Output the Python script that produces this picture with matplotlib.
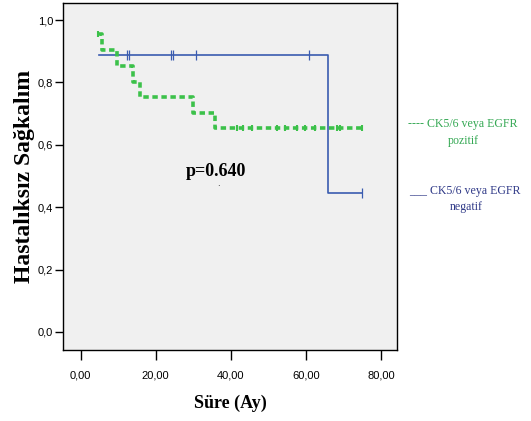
import matplotlib
matplotlib.use("Agg")
import matplotlib.pyplot as plt

# Kaplan-Meier curves (months, survival)
neg_time = [5.0, 65.8, 74.9]
neg_surv = [0.889, 0.444, 0.444]
neg_cens_time = [12.3, 12.9, 24.0, 24.7, 30.7, 60.8, 74.9]
neg_cens_surv = [0.889, 0.889, 0.889, 0.889, 0.889, 0.889, 0.444]

pos_time = [4.5, 5.8, 9.8, 13.9, 15.8, 29.9, 35.8, 74.9]
pos_surv = [0.957, 0.904, 0.853, 0.802, 0.752, 0.703, 0.654, 0.654]
pos_cens_time = [4.7, 41.7, 43.4, 45.6, 52.3, 54.5, 57.6, 59.8, 62.5, 68.3, 69.2, 74.9]
pos_cens_surv = [0.957] + [0.654] * 11

xticks = [0, 20, 40, 60, 80]
yticks = [0.0, 0.2, 0.4, 0.6, 0.8, 1.0]

green = "#3cc14a"
blue = "#3a5cb0"
serif = ["Liberation Serif", "DejaVu Serif"]

fig = plt.figure(figsize=(5.31, 4.21), dpi=100)
ax = fig.add_axes([0.1186, 0.1686, 0.629, 0.8243])
ax.set_facecolor("#f0f0f0")

ax.step(neg_time, neg_surv, where="post", color=blue, lw=1.2)
ax.plot(neg_cens_time, neg_cens_surv, ls="none", marker="|", ms=7, mew=0.9, color=blue)

ax.step(pos_time, pos_surv, where="post", color=green, lw=2.6, ls=(0, (1.5, 1.0)))
ax.plot(pos_cens_time, pos_cens_surv, ls="none", marker="|", ms=4, mew=1.5, color=green)

ax.set_xlim(-4.7, 84.3)
ax.set_ylim(-0.058, 1.055)
ax.set_xticks(xticks)
ax.set_xticklabels([f"{v:.2f}".replace(".", ",") for v in xticks], fontsize=8,
                   family="Liberation Sans")
ax.set_yticks(yticks)
ax.set_yticklabels([f"{v:.1f}".replace(".", ",") for v in yticks], fontsize=8,
                   family="Liberation Sans")
ax.tick_params(axis="x", length=7, width=1, pad=8)
ax.tick_params(axis="y", length=6, width=1, pad=1)
for s in ax.spines.values():
    s.set_linewidth(1)

ax.set_xlabel("Süre (Ay)", fontsize=13, fontweight="bold", family=serif, labelpad=10)
ax.set_ylabel("Hastalıksız Sağkalım", fontsize=17, fontweight="bold", family=serif,
              labelpad=2)

ax.text(36.1, 0.515, "p=0.640", fontsize=13, fontweight="bold", family=serif,
        ha="center", va="center")
ax.text(36.8, 0.475, ".", fontsize=6, ha="center", va="center")

fig.text(463 / 531, 1 - 124 / 421, "---- CK5/6 veya EGFR", color="#34a853",
         fontsize=8.6, family=serif, ha="center", va="center")
fig.text(463 / 531, 1 - 141 / 421, "pozitif", color="#34a853",
         fontsize=8.6, family=serif, ha="center", va="center")
fig.text(465 / 531, 1 - 191 / 421, "___ CK5/6 veya EGFR", color="#303a88",
         fontsize=8.6, family=serif, ha="center", va="center")
fig.text(466 / 531, 1 - 207 / 421, "negatif", color="#303a88",
         fontsize=8.6, family=serif, ha="center", va="center")

fig.savefig("out.png", dpi=100)
